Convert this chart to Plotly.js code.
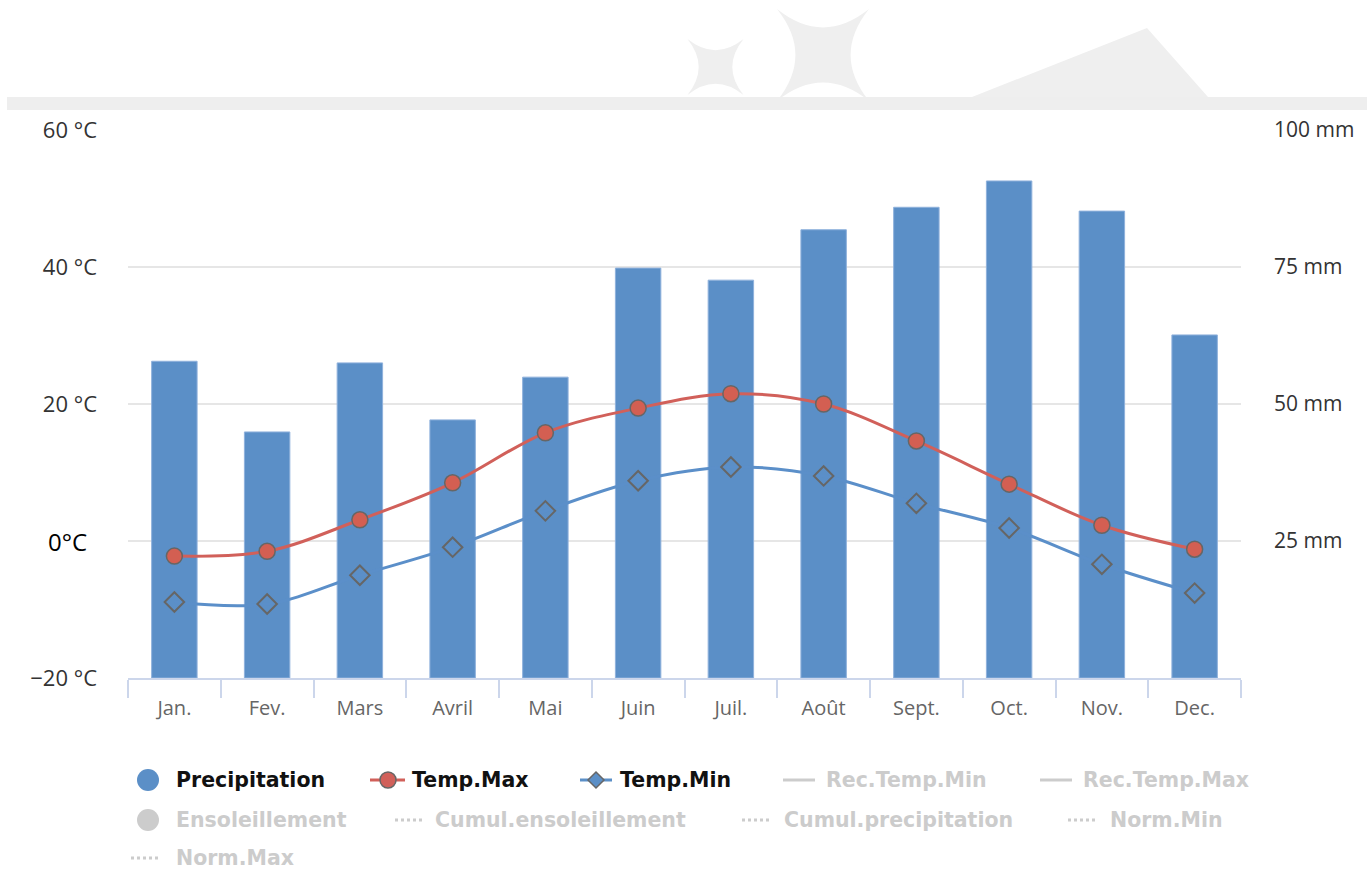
<!DOCTYPE html>
<html>
<head>
<meta charset="utf-8">
<script src="https://cdn.plot.ly/plotly-3.0.1.min.js"></script>
<style>html,body{margin:0;padding:0;background:#fff;}#chart{width:1367px;height:877px;}</style>
</head>
<body>
<div id="chart"></div>
<script>
// ---- data ----
var months = ["Jan.", "Fev.", "Mars", "Avril", "Mai", "Juin", "Juil.", "Août", "Sept.", "Oct.", "Nov.", "Dec."];
var precipitation = [57.8, 44.9, 57.5, 47.1, 54.9, 74.8, 72.6, 81.8, 85.9, 90.7, 85.2, 62.6];
var tempMax = [-2.2, -1.5, 3.1, 8.5, 15.8, 19.4, 21.5, 20.0, 14.6, 8.3, 2.3, -1.2];
var tempMin = [-8.9, -9.2, -5.0, -0.9, 4.4, 8.8, 10.8, 9.5, 5.5, 1.9, -3.4, -7.6];
var tempTicks = [-20, 0, 20, 40, 60];
var tempTickText = ["\u221220 \u00B0C", "", "20 \u00B0C", "40 \u00B0C", "60 \u00B0C"];
var rainTicks = [25, 50, 75, 100];
var rainTickText = ["25 mm", "50 mm", "75 mm", "100 mm"];
var activeLegend = ["Precipitation", "Temp.Max", "Temp.Min"];
var hiddenLegend = ["Rec.Temp.Min", "Rec.Temp.Max", "Ensoleillement", "Cumul.ensoleillement", "Cumul.precipitation", "Norm.Min", "Norm.Max"];

// ---- geometry helpers ----
var W = 1367, H = 877, ML = 128, MR = 126, MT = 130, MB = 199;
var PW = W - ML - MR, PH = H - MT - MB;
function px(x) { return (x - ML) / PW; }
function py(y) { return (H - MB - y) / PH; }
function pt(x, y) { return px(x) + "," + py(y); }
function star(cx, cy, s) {
  var h = s / 2, k = 0.4 * s;
  var tl = [cx - h, cy - h], tr = [cx + h, cy - h], br = [cx + h, cy + h], bl = [cx - h, cy + h];
  return "M" + pt(tl[0], tl[1]) +
    " Q" + pt(cx, cy - h + k) + " " + pt(tr[0], tr[1]) +
    " Q" + pt(cx + h - k, cy) + " " + pt(br[0], br[1]) +
    " Q" + pt(cx, cy + h - k) + " " + pt(bl[0], bl[1]) +
    " Q" + pt(cx - h + k, cy) + " " + pt(tl[0], tl[1]) + " Z";
}

var deco = "#efefef";
var shapes = [
  {type: "path", xref: "paper", yref: "paper", path: star(715.5, 67, 56), fillcolor: deco, line: {width: 0}, layer: "below"},
  {type: "path", xref: "paper", yref: "paper", path: star(823, 55, 92), fillcolor: deco, line: {width: 0}, layer: "below"},
  {type: "path", xref: "paper", yref: "paper", path: "M" + pt(972, 97) + " L" + pt(1147, 28) + " L" + pt(1208, 97) + " Z", fillcolor: deco, line: {width: 0}, layer: "below"},
  {type: "rect", xref: "paper", yref: "paper", x0: px(7), x1: px(1367), y0: py(110), y1: py(97), fillcolor: "#eeeeee", line: {width: 0}, layer: "below"}
];

// legend symbols
var blue = "#5b8fc7", red = "#d1605a", grey = "#cccccc";
function circ(cx, cy, r, fill, lc, lw) {
  return {type: "circle", xref: "paper", yref: "paper", x0: px(cx - r), x1: px(cx + r), y0: py(cy + r), y1: py(cy - r),
    fillcolor: fill, line: {color: lc || fill, width: lw || 0}};
}
function hline(x0, x1, y, color, dash) {
  return {type: "line", xref: "paper", yref: "paper", x0: px(x0), x1: px(x1), y0: py(y), y1: py(y),
    line: {color: color, width: 3, dash: dash || "solid"}};
}
var r1 = 780, r2 = 820, r3 = 858;
shapes.push(circ(148, r1, 11, blue));
shapes.push(hline(370, 405, r1, red));
shapes.push(circ(388, r1, 8, red, "#666666", 1.5));
shapes.push(hline(580, 612, r1, blue));
shapes.push({type: "path", xref: "paper", yref: "paper",
  path: "M" + pt(596, r1 - 8) + " L" + pt(604, r1) + " L" + pt(596, r1 + 8) + " L" + pt(588, r1) + " Z",
  fillcolor: blue, line: {color: "#666666", width: 1.5}});
shapes.push(hline(783, 815, r1, grey));
shapes.push(hline(1040, 1072, r1, grey));
shapes.push(circ(148, r2, 11, grey));
shapes.push(hline(395, 425, r2, grey, "dot"));
shapes.push(hline(742, 770, r2, grey, "dot"));
shapes.push(hline(1068, 1097, r2, grey, "dot"));
shapes.push(hline(131, 160, r3, grey, "dot"));

var legFont = "'DejaVu Sans', sans-serif";
function legText(x, y, txt, color) {
  return {xref: "paper", yref: "paper", x: px(x - 2), y: py(y), xanchor: "left", yanchor: "middle",
    text: "<b>" + txt + "</b>", showarrow: false, font: {family: legFont, size: 20.5, color: color}};
}
var annotations = [
  legText(176, r1, activeLegend[0], "#111111"),
  legText(412, r1, activeLegend[1], "#111111"),
  legText(620, r1, activeLegend[2], "#111111"),
  legText(826, r1, hiddenLegend[0], grey),
  legText(1083, r1, hiddenLegend[1], grey),
  legText(176, r2, hiddenLegend[2], grey),
  legText(435, r2, hiddenLegend[3], grey),
  legText(784, r2, hiddenLegend[4], grey),
  legText(1110, r2, hiddenLegend[5], grey),
  legText(176, r3, hiddenLegend[6], grey),
  {xref: "paper", yref: "y2", x: px(89), y: 0, xanchor: "right", yanchor: "middle", text: "0\u00B0C", showarrow: false,
    font: {family: "'Open Sans', sans-serif", size: 24, color: "#000000"}}
];

var traces = [
  {type: "bar", x: months, y: precipitation, yaxis: "y", name: "Precipitation",
    marker: {color: blue, line: {color: "#8fb1dc", width: 1}}, hoverinfo: "skip"},
  {type: "scatter", mode: "lines+markers", x: months, y: tempMin, yaxis: "y2", name: "Temp.Min",
    line: {color: "#5b8fc9", width: 3, shape: "spline", smoothing: 1},
    marker: {symbol: "diamond-open", size: 15, color: "#666666", line: {width: 2}}, hoverinfo: "skip"},
  {type: "scatter", mode: "lines+markers", x: months, y: tempMax, yaxis: "y2", name: "Temp.Max",
    line: {color: red, width: 3, shape: "spline", smoothing: 1},
    marker: {symbol: "circle", size: 16, color: "#d35f52", line: {color: "#666666", width: 1.5}}, hoverinfo: "skip"}
];

var layout = {
  width: W, height: H,
  margin: {l: ML, r: MR, t: MT, b: MB, pad: 0},
  paper_bgcolor: "#ffffff", plot_bgcolor: "#ffffff",
  font: {family: "'Open Sans', sans-serif"},
  showlegend: false,
  bargap: 0.51,
  xaxis: {
    type: "category", range: [-0.5, 11.5], showgrid: false, zeroline: false,
    showline: true, linecolor: "#ccd6eb", linewidth: 2,
    ticks: "outside", tickson: "boundaries", ticklen: 18, tickcolor: "#ccd6eb", tickwidth: 2,
    ticklabelstandoff: 11,
    tickfont: {size: 20, color: "#666666"}, fixedrange: true
  },
  yaxis: {
    range: [0, 100], tickvals: rainTicks, ticktext: rainTickText,
    side: "right", showgrid: false, zeroline: false, showline: false,
    ticks: "", ticklabelstandoff: 32,
    tickfont: {size: 21, color: "#333333"}, fixedrange: true
  },
  yaxis2: {
    range: [-20, 60], tickvals: tempTicks, ticktext: tempTickText,
    overlaying: "y", side: "left",
    showgrid: true, gridcolor: "#e6e6e6", gridwidth: 2, zeroline: false,
    showline: false, ticks: "", ticklabelstandoff: 30,
    tickfont: {size: 22, color: "#333333"}, fixedrange: true
  },
  shapes: shapes,
  annotations: annotations
};

Plotly.newPlot("chart", traces, layout, {displayModeBar: false, staticPlot: true});
</script>
</body>
</html>
